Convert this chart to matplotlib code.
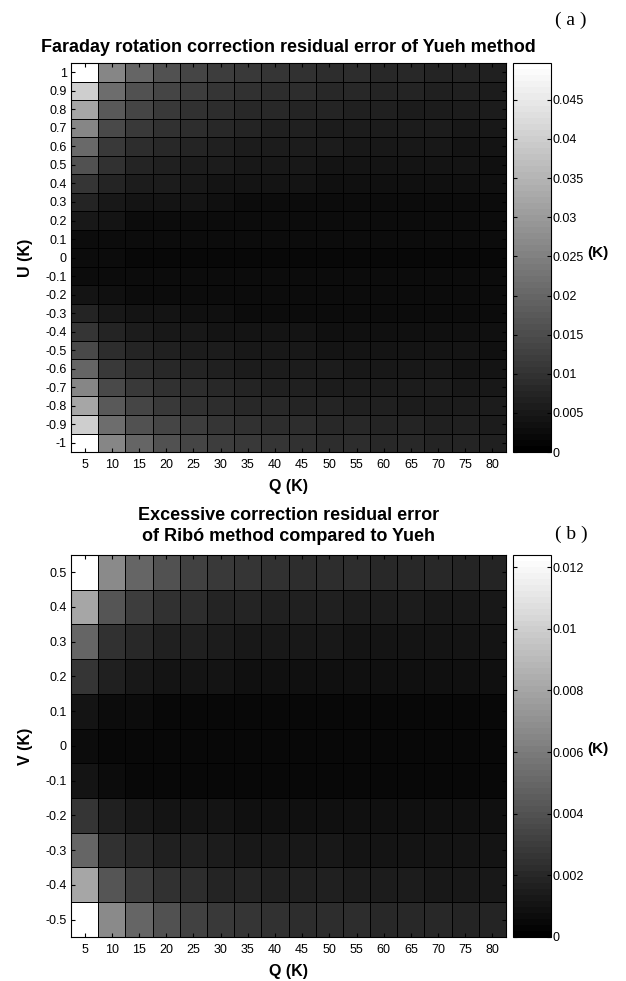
import numpy as np
import matplotlib
matplotlib.use('Agg')
import matplotlib.pyplot as plt
from matplotlib.ticker import FuncFormatter

plt.rcParams['font.family'] = ['Liberation Sans', 'DejaVu Sans']

# grid of input Stokes values (K)
q_vals = [5, 10, 15, 20, 25, 30, 35, 40, 45, 50, 55, 60, 65, 70, 75, 80]
u_vals = [1.0, 0.9, 0.8, 0.7, 0.6, 0.5, 0.4, 0.3, 0.2, 0.1, 0.0,
          -0.1, -0.2, -0.3, -0.4, -0.5, -0.6, -0.7, -0.8, -0.9, -1.0]
v_vals = [0.5, 0.4, 0.3, 0.2, 0.1, 0.0, -0.1, -0.2, -0.3, -0.4, -0.5]

# residual error of Yueh method, mK, rows follow u_vals
yueh_err_mK = [
    [49.7, 26.3, 19.5, 16.0, 13.7, 12.1, 11.3, 10.7, 9.8, 9.0, 8.6, 8.2, 7.8, 7.4, 7.0, 6.8],
    [40.0, 21.5, 15.6, 13.3, 11.7, 10.1, 9.4, 9.0, 8.6, 8.2, 7.8, 7.4, 7.0, 6.8, 6.6, 6.2],
    [32.2, 17.6, 13.3, 11.3, 9.8, 9.0, 8.2, 7.8, 7.4, 7.0, 6.6, 6.4, 6.2, 6.0, 5.9, 5.5],
    [26.3, 14.6, 11.3, 9.4, 8.6, 7.8, 7.0, 6.8, 6.4, 6.2, 6.0, 5.9, 5.7, 5.5, 5.3, 4.9],
    [20.5, 11.3, 8.8, 7.8, 7.0, 6.6, 6.2, 5.9, 5.7, 5.5, 5.3, 5.1, 4.9, 4.7, 4.5, 4.3],
    [15.6, 9.4, 7.4, 6.6, 5.9, 5.5, 5.3, 4.9, 4.7, 4.3, 4.1, 4.1, 3.9, 3.9, 3.9, 3.7],
    [10.7, 7.4, 6.2, 5.5, 4.9, 4.3, 4.3, 3.9, 3.9, 3.7, 3.5, 3.3, 3.3, 3.3, 3.3, 3.3],
    [7.4, 5.1, 4.3, 3.9, 3.9, 3.3, 3.1, 3.1, 2.9, 2.9, 2.9, 2.9, 2.9, 2.9, 2.9, 2.9],
    [4.7, 3.9, 3.1, 2.9, 2.9, 2.9, 2.7, 2.7, 2.7, 2.7, 2.7, 2.7, 2.7, 2.7, 2.7, 2.7],
    [2.7, 2.5, 2.5, 2.5, 2.5, 2.5, 2.5, 2.5, 2.5, 2.5, 2.5, 2.5, 2.5, 2.5, 2.5, 2.5],
    [2.5, 2.5, 2.3, 2.3, 2.3, 2.3, 2.3, 2.3, 2.3, 2.3, 2.3, 2.3, 2.3, 2.3, 2.3, 2.3],
    [2.7, 2.5, 2.5, 2.5, 2.5, 2.5, 2.5, 2.5, 2.5, 2.5, 2.5, 2.5, 2.5, 2.5, 2.5, 2.5],
    [4.5, 3.7, 3.1, 2.9, 2.9, 2.7, 2.7, 2.7, 2.7, 2.7, 2.7, 2.7, 2.7, 2.7, 2.7, 2.7],
    [7.0, 4.9, 4.1, 3.9, 3.7, 3.3, 3.1, 3.1, 2.9, 2.9, 2.9, 2.9, 2.9, 2.9, 2.9, 2.9],
    [10.1, 7.0, 6.0, 5.3, 4.9, 4.3, 4.1, 3.9, 3.9, 3.7, 3.5, 3.3, 3.3, 3.3, 3.3, 3.3],
    [14.6, 9.0, 7.2, 6.4, 5.9, 5.5, 5.3, 4.9, 4.7, 4.3, 4.1, 4.1, 3.9, 3.9, 3.9, 3.7],
    [19.5, 11.0, 8.8, 7.8, 7.0, 6.6, 6.2, 5.9, 5.7, 5.5, 5.3, 5.1, 4.9, 4.7, 4.5, 4.3],
    [26.3, 14.6, 11.3, 9.4, 8.6, 7.8, 7.0, 6.8, 6.4, 6.2, 6.0, 5.9, 5.7, 5.5, 5.3, 4.9],
    [32.2, 17.6, 13.3, 11.3, 9.8, 9.0, 8.2, 7.8, 7.4, 7.0, 6.6, 6.4, 6.2, 6.0, 5.9, 5.5],
    [40.0, 21.5, 15.6, 13.3, 11.7, 10.1, 9.4, 9.0, 8.6, 8.2, 7.8, 7.4, 7.0, 6.8, 6.6, 6.2],
    [49.7, 26.3, 19.5, 16.0, 13.7, 12.1, 11.3, 10.7, 9.8, 9.0, 8.6, 8.2, 7.8, 7.4, 7.0, 6.8],
]

# excess residual of Ribo method over Yueh, mK, rows follow v_vals
ribo_excess_mK = [
    [12.4, 6.6, 4.9, 3.9, 3.2, 2.8, 2.7, 2.4, 2.3, 2.2, 2.2, 2.1, 2.0, 2.0, 1.9, 1.8],
    [8.0, 4.1, 3.0, 2.5, 2.2, 1.9, 1.75, 1.7, 1.6, 1.55, 1.5, 1.45, 1.4, 1.35, 1.3, 1.25],
    [4.9, 2.5, 1.95, 1.7, 1.55, 1.4, 1.35, 1.3, 1.25, 1.2, 1.15, 1.05, 1.05, 1.0, 0.97, 0.97],
    [2.7, 1.7, 1.35, 1.15, 1.05, 0.97, 0.92, 0.87, 0.87, 0.83, 0.83, 0.78, 0.78, 0.78, 0.78, 0.78],
    [1.05, 0.73, 0.63, 0.58, 0.58, 0.58, 0.58, 0.58, 0.58, 0.58, 0.58, 0.58, 0.58, 0.58, 0.58, 0.58],
    [0.63, 0.58, 0.53, 0.53, 0.53, 0.53, 0.53, 0.53, 0.53, 0.53, 0.53, 0.53, 0.53, 0.53, 0.53, 0.53],
    [0.97, 0.68, 0.58, 0.58, 0.58, 0.58, 0.58, 0.58, 0.58, 0.58, 0.58, 0.58, 0.58, 0.58, 0.58, 0.58],
    [2.7, 1.7, 1.3, 1.1, 1.05, 0.97, 0.92, 0.87, 0.87, 0.83, 0.83, 0.78, 0.78, 0.78, 0.78, 0.78],
    [4.9, 2.5, 1.95, 1.7, 1.55, 1.4, 1.35, 1.3, 1.25, 1.2, 1.15, 1.05, 1.05, 1.0, 0.97, 0.97],
    [8.0, 4.1, 3.0, 2.5, 2.2, 1.9, 1.75, 1.7, 1.6, 1.55, 1.5, 1.45, 1.4, 1.35, 1.3, 1.25],
    [12.4, 6.6, 4.9, 3.9, 3.2, 2.8, 2.7, 2.4, 2.3, 2.2, 2.2, 2.1, 2.0, 2.0, 1.9, 1.8],
]

yueh_cticks = [0, 0.005, 0.01, 0.015, 0.02, 0.025, 0.03, 0.035, 0.04, 0.045]
ribo_cticks = [0, 0.002, 0.004, 0.006, 0.008, 0.01, 0.012]

cmap = plt.get_cmap('gray', 64)


def edges(centers):
    c = np.sort(np.asarray(centers, dtype=float))
    step = c[1] - c[0]
    return np.concatenate([c - step / 2, [c[-1] + step / 2]])


def g_fmt(v, pos):
    s = '%g' % round(v, 6)
    return '0' if s == '-0' else s


def heatmap(ax, cax, ycenters, data_mK, ylabel, cticks):
    z = np.asarray(data_mK) / 1000.0
    # rows are listed top-down, flip so they match ascending y edges
    z = z[np.argsort(ycenters)]
    xe = edges(q_vals)
    ye = edges(ycenters)
    mesh = ax.pcolormesh(xe, ye, z, cmap=cmap, vmin=0, vmax=z.max(),
                         edgecolors='black', linewidth=0.7)
    ax.set_xlim(xe[0], xe[-1])
    ax.set_ylim(ye[0], ye[-1])
    ax.set_xticks(q_vals)
    ax.set_yticks(ycenters)
    ax.yaxis.set_major_formatter(FuncFormatter(g_fmt))
    ax.tick_params(direction='in', top=True, right=True, length=3,
                   labelsize=9)
    ax.tick_params(axis='x', pad=5)
    ax.tick_params(axis='y', pad=3)
    ax.set_xlabel('Q (K)', fontsize=11.5, fontweight='bold', labelpad=6)
    ax.set_ylabel(ylabel, fontsize=11.5, fontweight='bold', labelpad=9)

    cb = plt.colorbar(mesh, cax=cax)
    cb.set_ticks(cticks)
    cb.ax.yaxis.set_major_formatter(FuncFormatter(g_fmt))
    cb.ax.tick_params(direction='in', left=True, right=True, length=3,
                      labelsize=9, pad=1)
    cb.outline.set_linewidth(0.8)
    for sp in ax.spines.values():
        sp.set_linewidth(0.8)
    return cb


fig = plt.figure(figsize=(6.26, 9.81), dpi=100)

ax1 = fig.add_axes([0.1134, 0.5392, 0.695, 0.3965])
cax1 = fig.add_axes([0.8195, 0.5392, 0.0607, 0.3965])
heatmap(ax1, cax1, u_vals, yueh_err_mK, 'U (K)', yueh_cticks)
ax1.set_title('Faraday rotation correction residual error of Yueh method',
              fontsize=13, fontweight='bold', pad=8)
fig.text(0.938, 0.742, '(K)', fontsize=11, fontweight='bold', va='center')
fig.text(0.912, 0.979, '( a )', fontsize=14, family='Liberation Serif',
         ha='center', va='center')

ax2 = fig.add_axes([0.1134, 0.0449, 0.695, 0.3895])
cax2 = fig.add_axes([0.8195, 0.0449, 0.0607, 0.3895])
heatmap(ax2, cax2, v_vals, ribo_excess_mK, 'V (K)', ribo_cticks)
ax2.set_title('Excessive correction residual error\nof Rib\u00f3 method compared to Yueh',
              fontsize=13, fontweight='bold', pad=10, linespacing=1.3)
fig.text(0.938, 0.236, '(K)', fontsize=11, fontweight='bold', va='center')
fig.text(0.912, 0.455, '( b )', fontsize=14, family='Liberation Serif',
         ha='center', va='center')

fig.savefig('out.png', dpi=100)
